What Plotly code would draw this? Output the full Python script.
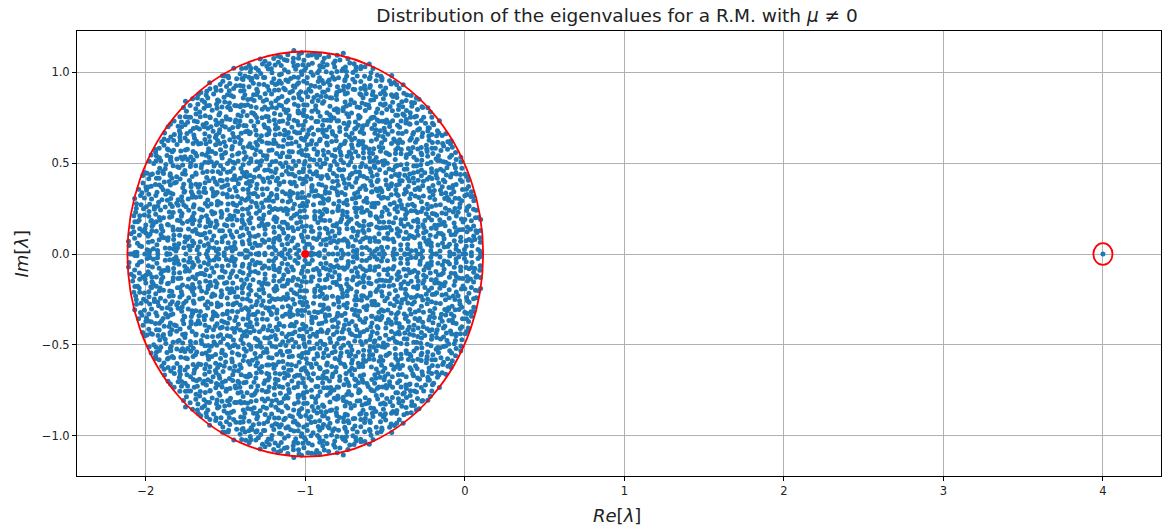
import numpy as np
import plotly.graph_objects as go

# --- values -----------------------------------------------------------------
TITLE = "Distribution of the eigenvalues for a R.M. with <i>μ</i> ≠ 0"
X_LABEL = "<i>Re</i>[<i>λ</i>]"
Y_LABEL = "<i>Im</i>[<i>λ</i>]"

X_TICKS = [-2, -1, 0, 1, 2, 3, 4]
Y_TICKS = [-1.0, -0.5, 0.0, 0.5, 1.0]
X_RANGE = [-2.431, 4.364]
Y_RANGE = [-1.222, 1.228]

BULK_CENTER = [-1.0, 0.0]      # red dot / centre of the red circle
BULK_RADIUS = 1.115            # radius of the red circle
OUTLIER_CENTER = [4.0, 0.0]    # isolated eigenvalue
OUTLIER_RADIUS = 0.06          # small red ring around it

# The ~4000 individual eigenvalues cannot be read one by one from the image.
# Stand-in: eigenvalues of a real matrix -I + (mu/N)*1 + sigma*G/sqrt(N),
# whose parameters (N, shift, mu, sigma) are the ones read off the picture.
MATRIX_N = 4000
SHIFT = BULK_CENTER[0]
MU = OUTLIER_CENTER[0] - BULK_CENTER[0]
SIGMA = BULK_RADIUS
SEEDS = list(range(1, 13))


def build(seed):
    rng = np.random.default_rng(seed)
    G = rng.standard_normal((MATRIX_N, MATRIX_N))
    return SHIFT * np.eye(MATRIX_N) + MU / MATRIX_N + SIGMA * G / np.sqrt(MATRIX_N)


def top_eig(M, iters=60):
    # power iteration: the isolated eigenvalue has by far the largest modulus
    v = np.ones(M.shape[0])
    lam = 0.0
    for _ in range(iters):
        w = M @ v
        lam = float(v @ w / (v @ v))
        v = w / np.linalg.norm(w)
    return lam


# pick the sample whose isolated eigenvalue sits where the picture shows it
best_seed = min(SEEDS, key=lambda s: abs(top_eig(build(s)) - OUTLIER_CENTER[0]))
eig = np.linalg.eigvals(build(best_seed))
eig_re = eig.real
eig_im = eig.imag

# the ring is drawn around the isolated eigenvalue itself
k = int(np.argmax(eig_re))
ring_x, ring_y = float(eig_re[k]), float(eig_im[k])

FONT = "DejaVu Sans"
TXT = "#222222"

FIG_W, FIG_H = 1162, 525
M_L, M_R, M_T, M_B = 77, 1, 31, 49
PLOT_W = FIG_W - M_L - M_R
PLOT_H = FIG_H - M_T - M_B

fig = go.Figure()
fig.add_trace(go.Scatter(
    x=eig_re, y=eig_im, mode="markers",
    marker=dict(size=5, color="#1f77b4", line=dict(width=0)),
    hoverinfo="skip", showlegend=False,
))
fig.add_trace(go.Scatter(
    x=[BULK_CENTER[0]], y=[BULK_CENTER[1]], mode="markers",
    marker=dict(size=8, color="red", line=dict(width=0)),
    showlegend=False,
))

fig.add_shape(type="circle", xref="x", yref="y",
              x0=BULK_CENTER[0] - BULK_RADIUS, x1=BULK_CENTER[0] + BULK_RADIUS,
              y0=BULK_CENTER[1] - BULK_RADIUS, y1=BULK_CENTER[1] + BULK_RADIUS,
              line=dict(color="red", width=1.8), layer="above")
fig.add_shape(type="circle", xref="x", yref="y",
              x0=ring_x - OUTLIER_RADIUS, x1=ring_x + OUTLIER_RADIUS,
              y0=ring_y - OUTLIER_RADIUS, y1=ring_y + OUTLIER_RADIUS,
              line=dict(color="red", width=1.8), layer="above")

axis_common = dict(
    showgrid=True, gridcolor="#b0b0b0", gridwidth=0.8,
    zeroline=False, showline=True, linecolor="black", linewidth=1,
    mirror=True, ticks="outside", ticklen=4, tickcolor="black",
    tickfont=dict(family=FONT, size=11.5, color=TXT),
)
fig.update_xaxes(range=X_RANGE, tickvals=X_TICKS,
                 ticktext=[str(v) if v >= 0 else "−" + str(-v) for v in X_TICKS],
                 **axis_common)
fig.update_yaxes(range=Y_RANGE, tickvals=Y_TICKS, tickformat=".1f", **axis_common)

fig.update_layout(
    width=FIG_W, height=FIG_H,
    margin=dict(l=M_L, r=M_R, t=M_T, b=M_B),
    plot_bgcolor="white", paper_bgcolor="white",
    font=dict(family=FONT, color=TXT),
    title=dict(text=TITLE, x=617 / FIG_W, xanchor="center",
               y=1 - 16 / FIG_H, yanchor="middle", yref="container",
               font=dict(family=FONT, size=18.5, color=TXT)),
    annotations=[
        dict(text=X_LABEL, xref="paper", yref="paper",
             x=(617 - M_L) / PLOT_W, y=-(515 - (M_T + PLOT_H)) / PLOT_H,
             xanchor="center", yanchor="middle", showarrow=False,
             font=dict(family=FONT, size=18, color=TXT)),
        dict(text=Y_LABEL, xref="paper", yref="paper",
             x=(21 - M_L) / PLOT_W, y=0.5,
             xanchor="center", yanchor="middle", showarrow=False, textangle=-90,
             font=dict(family=FONT, size=18, color=TXT)),
    ],
)

# remove the browser's default 8px body margin so the figure sits at (0, 0)
fig.write_html(
    "out.html",
    config={"displayModeBar": False},
    post_script="document.body.style.margin='0';"
                "document.documentElement.style.overflow='hidden';",
)
